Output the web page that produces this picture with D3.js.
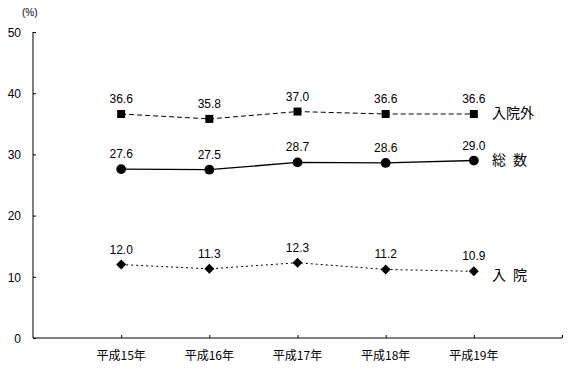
<!DOCTYPE html>
<html><head><meta charset="utf-8">
<script src="https://cdn.jsdelivr.net/npm/d3@7"></script>
<style>body{margin:0;background:#fff}svg{display:block}text{font-family:"Liberation Sans","Noto Sans CJK JP",sans-serif;fill:#000}</style>
</head><body>
<script>
const categories = ["平成15年","平成16年","平成17年","平成18年","平成19年"];
const outpatient = [36.6, 35.8, 37.0, 36.6, 36.6];
const total = [27.6, 27.5, 28.7, 28.6, 29.0];
const inpatient = [12.0, 11.3, 12.3, 11.2, 10.9];
const yTicks = [0,10,20,30,40,50];
const seriesNames = ["入院外","総\u2002数","入\u2002院"];

const W=571,H=368;
const svg=d3.select("body").append("svg").attr("width",W).attr("height",H);
const x=d3.scaleLinear().domain([0,categories.length+1]).range([33,562]);
const y=d3.scaleLinear().domain([0,50]).range([338,32]);

// axes
const yAxis=d3.axisLeft(y).tickValues(yTicks).tickSize(-3).tickPadding(12).tickFormat(d3.format("d"));
const gy=svg.append("g").attr("transform","translate(33,0)").call(yAxis);
gy.select(".domain").attr("stroke","#000").attr("d","M0,32V338");
gy.selectAll("text").style("font-size","12px").attr("dy","0.35em");

const xTickVals=d3.range(1,categories.length+2);
const xAxis=d3.axisBottom(x).tickValues(xTickVals).tickSize(-3).tickFormat(()=> "");
const gx=svg.append("g").attr("transform","translate(0,338)").call(xAxis);
gx.select(".domain").attr("stroke","#000").attr("d","M33,0H562");
gx.selectAll("line").attr("stroke","#000");

svg.selectAll(".cat").data(categories).join("text")
  .attr("x",(d,i)=>x(i+1)).attr("y",360).attr("text-anchor","middle")
  .style("font-size","12px").style("font-family","'Noto Sans CJK JP',sans-serif").text(d=>d);

svg.append("text").attr("x",22).attr("y",16).style("font-size","10px")
  .text("(%)");

const series=[
 {vals:outpatient,dash:"5,3",marker:"square",name:seriesNames[0],ly:113,w:1},
 {vals:total,dash:null,marker:"circle",name:seriesNames[1],ly:160,w:1.3},
 {vals:inpatient,dash:"2,3",marker:"diamond",name:seriesNames[2],ly:275,w:1}
];
const line=d3.line().x((d,i)=>x(i+1)).y(d=>y(d));
series.forEach(s=>{
  svg.append("path").datum(s.vals).attr("d",line).attr("fill","none")
    .attr("stroke","#000").attr("stroke-width",s.w).attr("stroke-dasharray",s.dash);
  const sym = s.marker==="square"? d3.symbol(d3.symbolSquare,64)
     : s.marker==="circle"? d3.symbol(d3.symbolCircle,75)
     : d3.symbol(d3.symbolSquare,50);
  svg.selectAll(null).data(s.vals).join("path")
    .attr("d",sym)
    .attr("transform",(d,i)=>`translate(${x(i+1)},${y(d)})`+(s.marker==="diamond"?" rotate(45)":""))
    .attr("fill","#000");
  svg.selectAll(null).data(s.vals).join("text")
    .attr("x",(d,i)=>x(i+1)).attr("y",d=>y(d)-11).attr("text-anchor","middle")
    .style("font-size","12px").text(d=>d.toFixed(1));
  svg.append("text").attr("x",492).attr("y",s.ly).attr("dy","0.35em")
    .style("font-size","14px").style("font-family","'Noto Sans CJK JP',sans-serif")
    .text(s.name);
});
</script>
</body></html>
